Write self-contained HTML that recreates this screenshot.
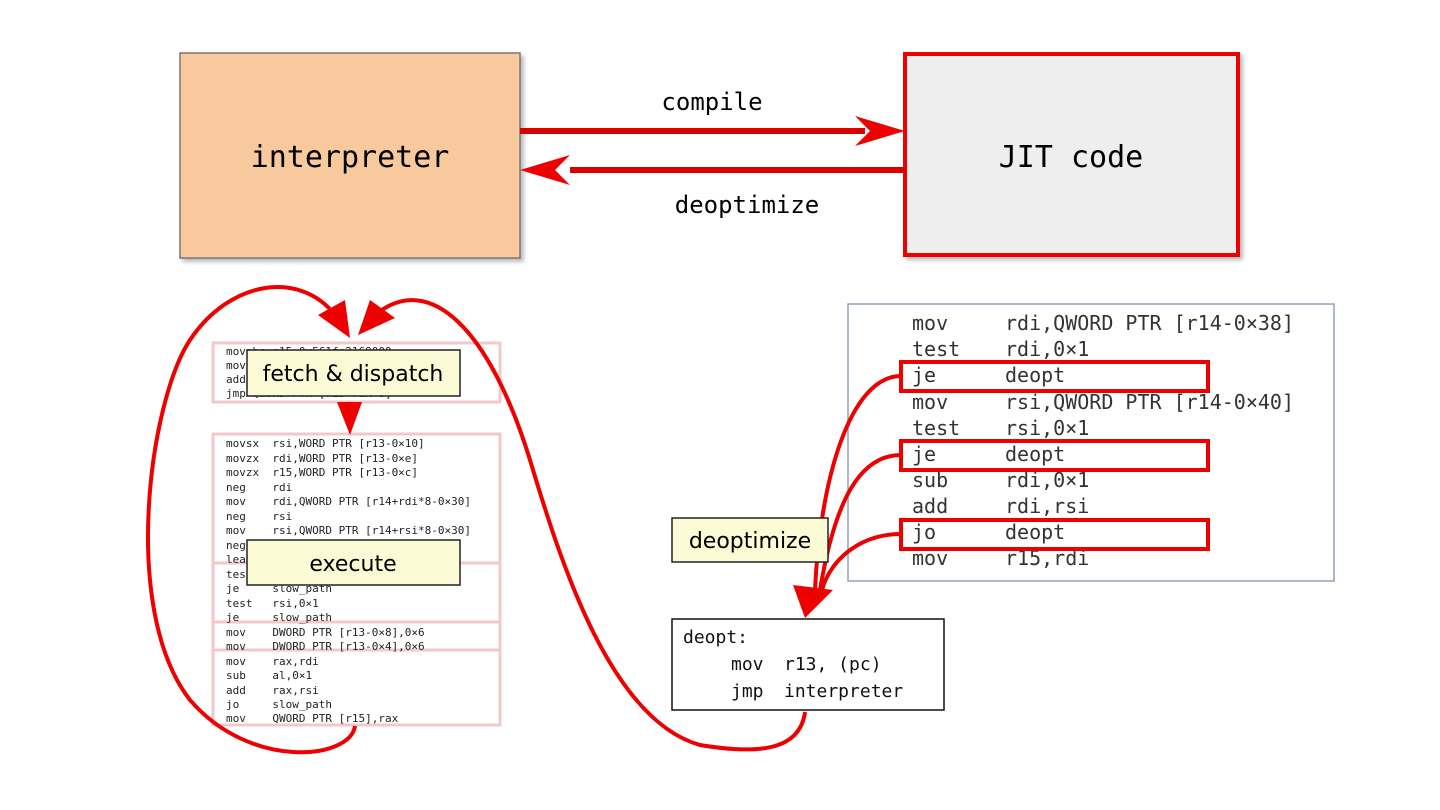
<!DOCTYPE html>
<html><head><style>
body{margin:0;width:1440px;height:810px;background:#fff;overflow:hidden;position:relative}
.m{font-family:"DejaVu Sans Mono","Liberation Mono",monospace}
.s{font-family:"DejaVu Sans","Liberation Sans",sans-serif}
</style></head><body>
<svg width="1440" height="810" style="position:absolute;left:0;top:0">
<defs><filter id="sh"><feDropShadow dx="3" dy="3" stdDeviation="2" flood-color="#888" flood-opacity="0.6"/></filter></defs>
<rect x="180" y="53" width="340" height="205" fill="#f8c99c" stroke="#777" stroke-width="1.5" filter="url(#sh)"/>
<text x="350" y="167" class="m" font-size="30" text-anchor="middle">interpreter</text>
<rect x="905" y="54" width="333" height="201" fill="#eeeeee" stroke="#e00" stroke-width="4" filter="url(#sh)"/>
<text x="1071" y="167" class="m" font-size="30" text-anchor="middle">JIT code</text>
<line x1="520" y1="131" x2="865" y2="131" stroke="#d00" stroke-width="6"/>
<polygon points="855,116 905,131 855,146 870,131" fill="#e00"/>
<line x1="570" y1="170" x2="905" y2="170" stroke="#d00" stroke-width="6"/>
<polygon points="570,155 520,170 570,185 555,170" fill="#e00"/>
<text x="712" y="110" class="m" font-size="24" text-anchor="middle">compile</text>
<text x="747" y="213" class="m" font-size="24" text-anchor="middle">deoptimize</text>

<g fill="none" stroke="#f2c8c8" stroke-width="3">
<rect x="213" y="343" width="287" height="59"/>
<rect x="213" y="434" width="287" height="129"/>
<rect x="213" y="563" width="287" height="59"/>
<rect x="213" y="622" width="287" height="28"/>
<rect x="213" y="650" width="287" height="75"/>
</g>
<g class="m" font-size="11" fill="#222">
<text x="226" y="355">movabs r15,0x561fe2169000</text>
<text x="226" y="369">mov</text><text x="226" y="383">add</text><text x="226" y="397">jmp    QWORD PTR [r15+rax*8]</text>
<text x="226" y="447" xml:space="preserve">movsx  rsi,WORD PTR [r13-0×10]</text>
<text x="226" y="462" xml:space="preserve">movzx  rdi,WORD PTR [r13-0×e]</text>
<text x="226" y="476" xml:space="preserve">movzx  r15,WORD PTR [r13-0×c]</text>
<text x="226" y="491" xml:space="preserve">neg    rdi</text>
<text x="226" y="505" xml:space="preserve">mov    rdi,QWORD PTR [r14+rdi*8-0×30]</text>
<text x="226" y="520" xml:space="preserve">neg    rsi</text>
<text x="226" y="534" xml:space="preserve">mov    rsi,QWORD PTR [r14+rsi*8-0×30]</text>
<text x="226" y="549">neg</text><text x="226" y="563">lea</text>
<text x="226" y="578">test</text>
<text x="226" y="592" xml:space="preserve">je     slow_path</text>
<text x="226" y="607" xml:space="preserve">test   rsi,0×1</text>
<text x="226" y="621" xml:space="preserve">je     slow_path</text>
<text x="226" y="636" xml:space="preserve">mov    DWORD PTR [r13-0×8],0×6</text>
<text x="226" y="650" xml:space="preserve">mov    DWORD PTR [r13-0×4],0×6</text>
<text x="226" y="665" xml:space="preserve">mov    rax,rdi</text>
<text x="226" y="679" xml:space="preserve">sub    al,0×1</text>
<text x="226" y="694" xml:space="preserve">add    rax,rsi</text>
<text x="226" y="708" xml:space="preserve">jo     slow_path</text>
<text x="226" y="722" xml:space="preserve">mov    QWORD PTR [r15],rax</text>
</g>
<rect x="247" y="350" width="213" height="46" fill="#fbfbd6" stroke="#222" stroke-width="1.5"/>
<text x="353" y="381" class="s" font-size="22" text-anchor="middle">fetch &amp; dispatch</text>
<rect x="247" y="540" width="213" height="45" fill="#fbfbd6" stroke="#222" stroke-width="1.5"/>
<text x="353" y="571" class="s" font-size="22" text-anchor="middle">execute</text>
<polygon points="337,402 362,402 350,435" fill="#e00"/>

<g fill="none" stroke="#e00" stroke-width="4">
<path d="M355,726 C350,760 250,770 190,700 C120,610 150,400 190,340 C230,280 300,270 335,315"/>
<path d="M805,712 C800,750 760,755 700,745 C610,720 560,560 530,460 C490,330 430,270 375,315"/>
</g>
<polygon points="318,315 350,338 345,300" fill="#e00"/>
<polygon points="358,335 395,318 370,300" fill="#e00"/>

<rect x="848" y="304" width="486" height="277" fill="#fff" stroke="#8ea4b8" stroke-width="1.5"/>
<g class="m" font-size="20" fill="#333">
<text x="912" y="330">mov</text><text x="1005" y="330">rdi,QWORD PTR [r14-0×38]</text>
<text x="912" y="356">test</text><text x="1005" y="356">rdi,0×1</text>
<text x="912" y="382">je</text><text x="1005" y="382">deopt</text>
<text x="912" y="409">mov</text><text x="1005" y="409">rsi,QWORD PTR [r14-0×40]</text>
<text x="912" y="435">test</text><text x="1005" y="435">rsi,0×1</text>
<text x="912" y="461">je</text><text x="1005" y="461">deopt</text>
<text x="912" y="487">sub</text><text x="1005" y="487">rdi,0×1</text>
<text x="912" y="513">add</text><text x="1005" y="513">rdi,rsi</text>
<text x="912" y="539">jo</text><text x="1005" y="539">deopt</text>
<text x="912" y="565">mov</text><text x="1005" y="565">r15,rdi</text>
</g>
<g fill="none" stroke="#e00" stroke-width="4">
<rect x="901" y="362" width="307" height="29"/>
<rect x="901" y="441" width="307" height="29"/>
<rect x="901" y="520" width="307" height="29"/>
<path d="M901,376 C850,376 820,480 815,590"/>
<path d="M901,455 C860,455 835,500 820,590"/>
<path d="M901,534 C860,534 830,560 822,590"/>
</g>
<polygon points="793,585 833,590 805,618" fill="#e00"/>
<rect x="672" y="518" width="156" height="44" fill="#fbfbd6" stroke="#222" stroke-width="1.5"/>
<text x="750" y="548" class="s" font-size="22" text-anchor="middle">deoptimize</text>
<rect x="672" y="619" width="272" height="91" fill="#fff" stroke="#111" stroke-width="1.5"/>
<g class="m" font-size="18" fill="#111">
<text x="683" y="643">deopt:</text>
<text x="731" y="670">mov</text><text x="784" y="670">r13, (pc)</text>
<text x="731" y="697">jmp</text><text x="784" y="697">interpreter</text>
</g>
</svg>
</body></html>
